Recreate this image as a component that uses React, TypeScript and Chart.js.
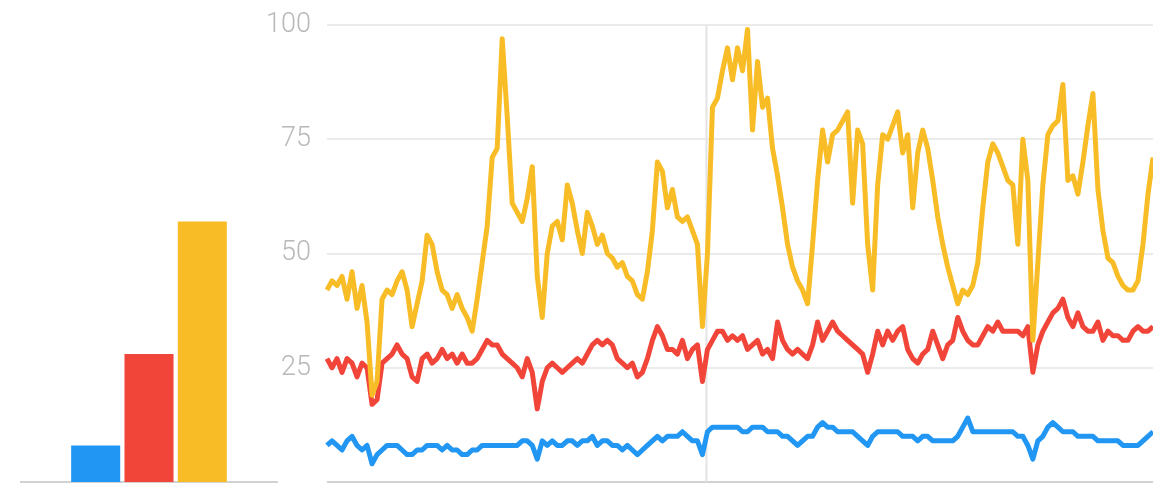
import React, { useEffect, useRef } from "react";
import { Chart, registerables } from "chart.js";

Chart.register(...registerables);

const SERIES_NAMES = ["Term A", "Term B", "Term C"];
const SERIES_COLORS = ["#2196F3", "#F2453A", "#F8BD26"];

// Averages shown in the left bar panel
const BAR_VALUES = [8, 28, 57];

// Weekly interest over time (0-100)
const YELLOW_VALUES = [
  42, 44, 43, 45, 40, 46, 38, 43, 35, 19,
  22, 40, 42, 41, 44, 46, 42, 34, 39, 44,
  54, 52, 46, 42, 41, 38, 41, 38, 36, 33,
  40, 48, 56, 71, 73, 97, 80, 61, 59, 57,
  62, 69, 45, 36, 50, 56, 57, 53, 65, 61,
  55, 50, 59, 56, 52, 54, 50, 49, 47, 48,
  45, 44, 41, 40, 46, 55, 70, 68, 60, 64,
  58, 57, 58, 55, 52, 34, 50, 82, 84, 90,
  95, 88, 95, 90, 99, 77, 92, 82, 84, 73,
  67, 60, 52, 47, 44, 42, 39, 52, 66, 77,
  70, 76, 77, 79, 81, 61, 77, 74, 52, 42,
  65, 76, 75, 78, 81, 72, 76, 60, 72, 77,
  73, 66, 58, 52, 47, 43, 39, 42, 41, 43,
  48, 60, 70, 74, 72, 69, 66, 65, 52, 75,
  66, 31, 48, 65, 76, 78, 79, 87, 66, 67,
  63, 70, 78, 85, 64, 55, 49, 48, 45, 43,
  42, 42, 44, 52, 63, 71,
];

const RED_VALUES = [
  27, 25, 27, 24, 27, 26, 23, 26, 25, 17,
  18, 26, 27, 28, 30, 28, 27, 23, 22, 27,
  28, 26, 27, 29, 27, 28, 26, 28, 26, 26,
  27, 29, 31, 30, 30, 28, 27, 26, 25, 23,
  27, 24, 16, 22, 25, 26, 25, 24, 25, 26,
  27, 26, 28, 30, 31, 30, 31, 30, 27, 26,
  25, 26, 23, 24, 27, 31, 34, 32, 29, 29,
  28, 31, 27, 29, 30, 22, 29, 31, 33, 33,
  31, 32, 31, 32, 29, 30, 31, 28, 29, 27,
  35, 31, 29, 28, 29, 28, 27, 30, 35, 31,
  33, 35, 33, 32, 31, 30, 29, 28, 24, 28,
  33, 30, 33, 31, 33, 34, 29, 27, 26, 28,
  29, 33, 30, 27, 30, 31, 36, 33, 31, 30,
  30, 32, 34, 33, 35, 33, 33, 33, 33, 32,
  34, 24, 30, 33, 35, 37, 38, 40, 36, 34,
  37, 34, 33, 33, 35, 31, 33, 32, 32, 31,
  31, 33, 34, 33, 33, 34,
];

const BLUE_VALUES = [
  8, 9, 8, 7, 9, 10, 8, 7, 8, 4,
  6, 7, 8, 8, 8, 7, 6, 6, 7, 7,
  8, 8, 8, 7, 8, 7, 7, 6, 6, 7,
  7, 8, 8, 8, 8, 8, 8, 8, 8, 9,
  9, 8, 5, 9, 8, 9, 8, 8, 9, 9,
  8, 9, 9, 10, 8, 9, 9, 8, 8, 7,
  8, 7, 6, 7, 8, 9, 10, 9, 10, 10,
  10, 11, 10, 9, 9, 6, 11, 12, 12, 12,
  12, 12, 12, 11, 11, 12, 12, 12, 11, 11,
  11, 10, 10, 9, 8, 9, 10, 10, 12, 13,
  12, 12, 11, 11, 11, 11, 10, 9, 8, 10,
  11, 11, 11, 11, 11, 10, 10, 10, 9, 10,
  10, 9, 9, 9, 9, 9, 10, 12, 14, 11,
  11, 11, 11, 11, 11, 11, 11, 11, 10, 10,
  8, 5, 9, 10, 12, 13, 12, 11, 11, 11,
  10, 10, 10, 10, 9, 9, 9, 9, 9, 8,
  8, 8, 8, 9, 10, 11,
];

const WEEK_LABELS = YELLOW_VALUES.map((_, i) => `W${i + 1}`);
const NOTE_INDEX = 75.8;
const Y_STEP = 25;

const baselinePlugin = {
  id: "baseline",
  beforeDatasetsDraw(chart: any) {
    const { ctx, chartArea, scales } = chart;
    const y = scales.y.getPixelForValue(0);
    ctx.save();
    ctx.strokeStyle = "#d2d2d2";
    ctx.lineWidth = 2;
    ctx.beginPath();
    ctx.moveTo(chartArea.left, y);
    ctx.lineTo(chartArea.right, y);
    ctx.stroke();
    ctx.restore();
  },
};

const notePlugin = {
  id: "noteLine",
  beforeDatasetsDraw(chart: any) {
    const { ctx, scales } = chart;
    const x = scales.x.getPixelForValue(NOTE_INDEX);
    ctx.save();
    ctx.strokeStyle = "#e3e3e3";
    ctx.lineWidth = 2;
    ctx.beginPath();
    ctx.moveTo(x, scales.y.getPixelForValue(100));
    ctx.lineTo(x, scales.y.getPixelForValue(0));
    ctx.stroke();
    ctx.restore();
  },
};

export default function App() {
  const barRef = useRef<HTMLCanvasElement>(null);
  const lineRef = useRef<HTMLCanvasElement>(null);

  useEffect(() => {
    const bar = new Chart(barRef.current as HTMLCanvasElement, {
      type: "bar",
      data: {
        labels: ["avg"],
        datasets: SERIES_NAMES.map((name, i) => ({
          label: name,
          data: [BAR_VALUES[i]],
          backgroundColor: SERIES_COLORS[i],
          borderWidth: 0,
          categoryPercentage: 0.62,
          barPercentage: 0.92,
        })),
      },
      options: {
        animation: false,
        responsive: false,
        layout: { padding: { left: 20, right: 2, top: 25, bottom: 1 } },
        plugins: { legend: { display: false }, tooltip: { enabled: false } },
        scales: {
          x: { display: false },
          y: { display: false, min: 0, max: 100 },
        },
      },
      plugins: [baselinePlugin],
    });

    const seriesValues = [BLUE_VALUES, RED_VALUES, YELLOW_VALUES];
    const line = new Chart(lineRef.current as HTMLCanvasElement, {
      type: "line",
      data: {
        labels: WEEK_LABELS,
        datasets: SERIES_NAMES.map((name, i) => ({
          label: name,
          data: seriesValues[i],
          borderColor: SERIES_COLORS[i],
          backgroundColor: SERIES_COLORS[i],
          borderWidth: 5,
          pointRadius: 0,
          tension: 0,
          borderJoinStyle: "round" as const,
          order: 2 - i,
        })),
      },
      options: {
        animation: false,
        responsive: false,
        layout: { padding: { left: 0, right: 0, top: 25, bottom: 1 } },
        plugins: { legend: { display: false }, tooltip: { enabled: false } },
        scales: {
          x: { display: false },
          y: {
            min: 0,
            max: 100,
            border: { display: false },
            afterFit: (s: any) => {
              s.width = 87;
              s.paddingTop = 0;
              s.paddingBottom = 0;
            },
            grid: { color: "#ebebeb", lineWidth: 2, drawTicks: false },
            ticks: {
              stepSize: Y_STEP,
              padding: 16,
              color: "#b8b8b8",
              font: { family: "Roboto", size: 27, weight: 300 },
              callback: (v: any) => (v === 0 ? null : String(v)),
            },
          },
        },
      },
      plugins: [baselinePlugin, notePlugin],
    });

    return () => {
      bar.destroy();
      line.destroy();
    };
  }, []);

  return (
    <div style={{ position: "absolute", left: 0, top: 0, width: 1153, height: 483, background: "#fff" }}>
      <canvas ref={barRef} width={280} height={483} style={{ position: "absolute", left: 0, top: 0 }} />
      <canvas ref={lineRef} width={913} height={483} style={{ position: "absolute", left: 240, top: 0 }} />
    </div>
  );
}
